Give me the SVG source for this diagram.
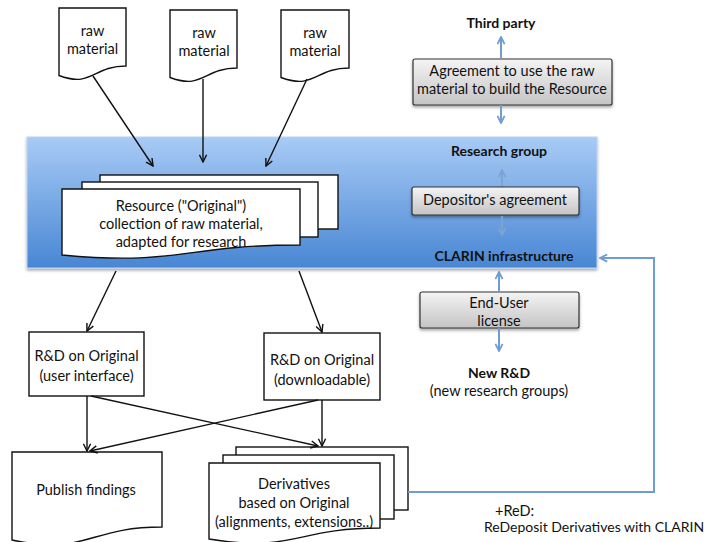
<svg xmlns="http://www.w3.org/2000/svg" width="707" height="542" viewBox="0 0 707 542">
<style>
text{font-family:Lato,"Liberation Sans",sans-serif;font-size:14.5px;fill:#111;text-anchor:middle}
.b{font-weight:bold;font-size:14px}
.doc{fill:#fff;stroke:#111;stroke-width:1.4}
.gbox{fill:url(#gg);stroke:#333;stroke-width:1.2;filter:url(#sh)}
.k{fill:none;stroke:#111;stroke-width:1.4;marker-end:url(#ka)}
.bl{fill:none;stroke:#6f9cd2;stroke-width:2;marker-end:url(#ba)}
.fd{fill:none;stroke:#7ea3d2;stroke-width:2;marker-end:url(#fa)}
</style>
<defs>
<linearGradient id="band" x1="0" y1="0" x2="0" y2="1">
<stop offset="0" stop-color="#a8cbf5"/>
<stop offset="1" stop-color="#4886d4"/>
</linearGradient>
<linearGradient id="gg" x1="0" y1="0" x2="0" y2="1">
<stop offset="0" stop-color="#f4f4f4"/>
<stop offset="1" stop-color="#c4c4c4"/>
</linearGradient>
<filter id="sh" x="-10%" y="-10%" width="120%" height="140%">
<feDropShadow dx="0" dy="2" stdDeviation="1.5" flood-color="#000" flood-opacity="0.35"/>
</filter>
<marker id="ka" viewBox="0 0 10 10" refX="9" refY="5" markerWidth="9" markerHeight="9" markerUnits="userSpaceOnUse" orient="auto">
<path d="M1,1 L9,5 L1,9" fill="none" stroke="#111" stroke-width="1.6"/>
</marker>
<marker id="ba" viewBox="0 0 10 10" refX="9" refY="5" markerWidth="9" markerHeight="9" markerUnits="userSpaceOnUse" orient="auto">
<path d="M1,1 L9,5 L1,9" fill="none" stroke="#6f9cd2" stroke-width="2"/>
</marker>
<marker id="fa" viewBox="0 0 10 10" refX="9" refY="5" markerWidth="9" markerHeight="9" markerUnits="userSpaceOnUse" orient="auto">
<path d="M1,1 L9,5 L1,9" fill="none" stroke="#7ea3d2" stroke-width="2"/>
</marker>
</defs>

<g id="band-group">
<rect x="27" y="137" width="570" height="131" fill="url(#band)" stroke="#b9d3f3" stroke-width="1" filter="url(#sh)"/>
<text class="b" x="499" y="156">Research group</text>
<text class="b" x="504" y="261">CLARIN infrastructure</text>
</g>

<g id="raw1">
<path class="doc" d="M59,8 H126 V66 C92.5,66 92.5,88 59,75.5 Z"/>
<text x="92.5" y="36">raw</text>
<text x="92.5" y="54">material</text>
</g>
<g id="raw2">
<path class="doc" d="M170,10 H237 V68 C203.5,68 203.5,90 170,77.5 Z"/>
<text x="204" y="38">raw</text>
<text x="204" y="56">material</text>
</g>
<g id="raw3">
<path class="doc" d="M281,10 H349 V68 C315,68 315,90 281,77.5 Z"/>
<text x="315" y="38">raw</text>
<text x="315" y="56">material</text>
</g>

<g id="thirdparty">
<text class="b" x="501" y="28">Third party</text>
</g>
<g id="agreement">
<rect class="gbox" x="413" y="59" width="199" height="46" rx="2"/>
<text x="512" y="76">Agreement to use the raw</text>
<text x="512" y="94">material to build the Resource</text>
</g>

<g id="resource">
<rect class="doc" x="100" y="175" width="238" height="54"/>
<rect class="doc" x="82" y="182" width="236" height="55"/>
<path class="doc" d="M62,189 H300 V245 C181,245 181,266 62,255 Z"/>
<text x="181" y="211">Resource ("Original")</text>
<text x="181" y="229">collection of raw material,</text>
<text x="181" y="247">adapted for research</text>
</g>

<g id="depositor">
<rect class="gbox" x="412" y="187" width="167" height="28" rx="2"/>
<text x="495" y="205">Depositor's agreement</text>
</g>

<g id="enduser">
<rect class="gbox" x="420" y="292" width="159" height="36" rx="2"/>
<text x="499" y="308">End-User</text>
<text x="499" y="326">license</text>
</g>

<g id="newrd">
<text class="b" x="499" y="378">New R&amp;D</text>
<text x="499" y="396">(new research groups)</text>
</g>

<g id="rd1">
<rect class="doc" x="29" y="332" width="115" height="64"/>
<text x="86.5" y="361">R&amp;D on Original</text>
<text x="86.5" y="381">(user interface)</text>
</g>
<g id="rd2">
<rect class="doc" x="264" y="333" width="116" height="67"/>
<text x="322" y="365">R&amp;D on Original</text>
<text x="322" y="385">(downloadable)</text>
</g>

<g id="publish">
<path class="doc" d="M12,452 H162 V527 C87,527 87,556 12,540 Z"/>
<text x="86" y="495">Publish findings</text>
</g>

<g id="derivatives">
<rect class="doc" x="236" y="447" width="172" height="63"/>
<rect class="doc" x="223" y="455" width="171" height="64"/>
<path class="doc" d="M209,463 H380 V528 C294.5,528 294.5,553 209,539 Z"/>
<text x="294" y="489">Derivatives</text>
<text x="294" y="508">based on Original</text>
<text x="294" y="527">(alignments, extensions..)</text>
</g>

<g id="redeposit-note">
<text x="495" y="516" style="text-anchor:start">+ReD:</text>
<text x="484" y="532" style="text-anchor:start;font-size:14px">ReDeposit Derivatives with CLARIN</text>
</g>

<g id="connectors">
<line class="k" x1="93" y1="76" x2="153" y2="166"/>
<line class="k" x1="203" y1="79" x2="203" y2="162"/>
<line class="k" x1="307" y1="79" x2="266" y2="166"/>
<line class="k" x1="116" y1="271" x2="87" y2="331"/>
<line class="k" x1="299" y1="271" x2="322" y2="332"/>
<line class="k" x1="87" y1="396" x2="87" y2="451"/>
<line class="k" x1="91" y1="396" x2="318" y2="446"/>
<line class="k" x1="318" y1="400" x2="90" y2="451"/>
<line class="k" x1="322" y1="400" x2="322" y2="446"/>
<line class="bl" x1="501" y1="58" x2="501" y2="37"/>
<line class="bl" x1="501" y1="105" x2="501" y2="123"/>
<line class="fd" x1="502" y1="186" x2="502" y2="170"/>
<line class="fd" x1="502" y1="216" x2="502" y2="235"/>
<line class="bl" x1="499" y1="292" x2="499" y2="272"/>
<line class="bl" x1="499" y1="328" x2="499" y2="351"/>
<path class="bl" d="M408,492 H654 V258 H600"/>
</g>
</svg>
